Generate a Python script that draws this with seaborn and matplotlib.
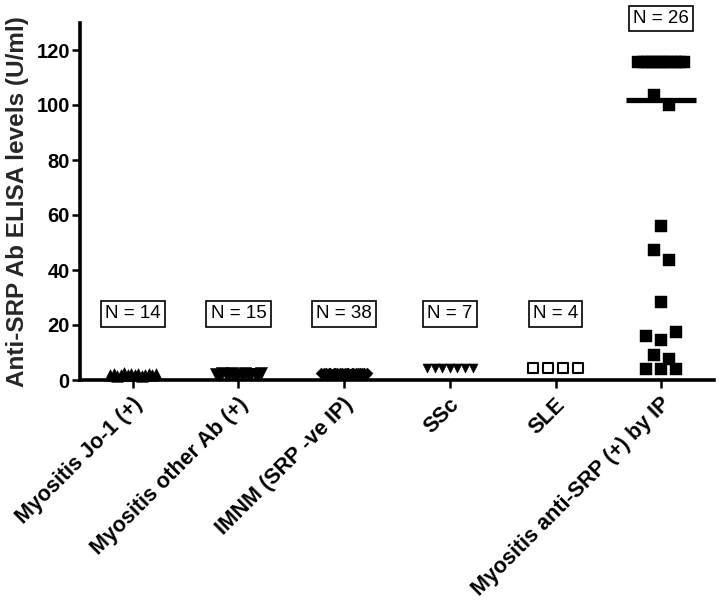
import numpy as np
import pandas as pd
import matplotlib
matplotlib.use("Agg")
import matplotlib.pyplot as plt
import matplotlib.transforms as mtransforms
import seaborn as sns

# ---------------- data ----------------
categories = ["Myositis Jo-1 (+)", "Myositis other Ab (+)", "IMNM (SRP -ve IP)",
              "SSc", "SLE", "Myositis anti-SRP (+) by IP"]
jo1 = [1.8, 2.2, 1.6, 2.0, 2.4, 1.7, 2.1, 1.9, 2.3, 1.6, 2.0, 2.2, 1.8, 2.1]
other_ab = [2.3, 2.0, 2.4, 2.1, 2.2, 2.5, 1.9, 2.3, 2.0, 2.4, 2.2, 2.1, 2.3, 2.0, 2.4]
imnm = [2.4, 2.2, 2.6, 2.3, 2.5, 2.1, 2.4, 2.6, 2.2, 2.3, 2.5, 2.4, 2.2, 2.6, 2.3,
        2.5, 2.1, 2.4, 2.3, 2.6, 2.2, 2.5, 2.4, 2.3, 2.1, 2.6, 2.4, 2.2, 2.5, 2.3,
        2.4, 2.6, 2.2, 2.5, 2.3, 2.4, 2.1, 2.5]
ssc = [4.4, 4.5, 4.3, 4.4, 4.5, 4.4, 4.3]
sle = [4.2, 4.2, 4.2, 4.2]
anti_srp = [115.7, 115.7, 115.7, 115.7, 115.7, 115.7, 115.7, 115.7, 115.7, 115.7,
            115.7, 115.7, 103.6, 100.0, 56.1, 47.3, 43.5, 28.3, 16.0, 14.5, 17.3,
            9.1, 7.5, 4.0, 4.0, 4.0]
groups = [jo1, other_ab, imnm, ssc, sle, anti_srp]
y_label = "Anti-SRP Ab ELISA levels (U/ml)"

# ---------------- layout helper (GraphPad-like scatter spread) ----------------
def spread(vals, tol=4.0, step=0.142, max_w=0.43):
    rows = []
    for i, v in enumerate(vals):
        for r in rows:
            if abs(v - r[0]) <= tol:
                r[1].append(i)
                break
        else:
            rows.append([v, [i]])
    off = np.zeros(len(vals))
    for _, idx in rows:
        n = len(idx)
        if n > 1:
            s = min(step, max_w / (n - 1))
            off[idx] = (np.arange(n) - (n - 1) / 2) * s
    return off

frames = []
for ci, (cat, vals) in enumerate(zip(categories, groups)):
    frames.append(pd.DataFrame({"group": cat, "value": vals,
                                "x": ci + spread(vals)}))
df = pd.concat(frames, ignore_index=True)

sns.set_theme(style="ticks")
plt.rcParams["font.family"] = ["Liberation Sans", "DejaVu Sans"]

fig = plt.figure(figsize=(7.2, 6.03), dpi=100)
ax = fig.add_axes([80 / 720, 1 - 380 / 603, 634 / 720, 357.5 / 603])

styles = [
    dict(marker="^", s=70, color="black", edgecolor="black", linewidth=0.4),
    dict(marker="v", s=75, color="black", edgecolor="black", linewidth=0.4),
    dict(marker="D", s=30, color="black", edgecolor="black", linewidth=0.4),
    dict(marker="v", s=42, color="black", edgecolor="black", linewidth=0.4),
    dict(marker="s", s=55, color="white", edgecolor="black", linewidth=1.5),
    dict(marker="s", s=64, color="black", edgecolor="black", linewidth=0.3),
]
for cat, st in zip(categories, styles):
    sub = df[df["group"] == cat]
    sns.scatterplot(data=sub, x="x", y="value", ax=ax, legend=False,
                    clip_on=False, zorder=3, **st)

# median line for anti-SRP group
ai = categories.index("Myositis anti-SRP (+) by IP")
ax.hlines(np.median(anti_srp), ai - 0.33, ai + 0.33, color="black", lw=3.8, zorder=4)

# N labels
for ci, vals in enumerate(groups):
    yy = 24 if max(vals) < 60 else 131.5
    ax.text(ci, yy, f"N = {len(vals)}", ha="center", va="center", fontsize=13.5,
            color="black", zorder=5,
            bbox=dict(boxstyle="square,pad=0.22", fc="white", ec="black", lw=1.2))

ax.set_xlim(-0.5, 5.5)
ax.set_ylim(0, 130)
ax.set_xticks(range(len(categories)))
ax.set_xticklabels(categories, rotation=45, ha="right", va="center",
                   rotation_mode="anchor", fontsize=15.5, fontweight="bold")
ax.set_yticks([0, 20, 40, 60, 80, 100, 120])
ax.set_yticklabels(["0", "20", "40", "60", "80", "100", "120"],
                   fontsize=14.5, fontweight="bold")
ax.set_xlabel("")
ax.set_ylabel(y_label, fontsize=17.5, fontweight="bold", labelpad=5)

ax.tick_params(axis="x", length=5.8, width=1.8, pad=9.5, colors="black")
ax.tick_params(axis="y", length=5.8, width=1.8, pad=1.5, colors="black")
for side in ["top", "right"]:
    ax.spines[side].set_visible(False)
for side in ["left", "bottom"]:
    ax.spines[side].set_linewidth(2.6)
    ax.spines[side].set_color("black")

offset = mtransforms.ScaledTranslation(0.06, 0, fig.dpi_scale_trans)
for lbl in ax.get_xticklabels():
    lbl.set_transform(lbl.get_transform() + offset)

fig.savefig("out.png", dpi=100, facecolor="white")
